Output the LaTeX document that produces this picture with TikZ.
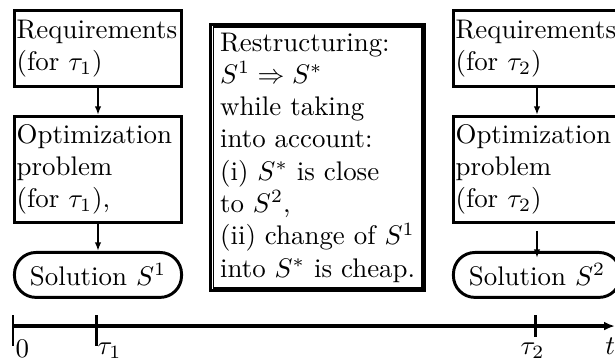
\documentclass[tikz,border=0pt]{standalone}
\usepackage{amsmath,amssymb}
\usetikzlibrary{arrows.meta}

\tikzset{
  box/.style={draw, line width=1.1pt, anchor=north west, align=left,
    text width=60.5pt, inner xsep=0.8pt, inner ysep=0pt},
  soln/.style={draw, line width=1.1pt, anchor=north west, rounded corners=8pt,
    minimum width=62.1pt, minimum height=16.7pt, inner sep=0pt},
  arr/.style={-{Latex[length=3.2pt,width=2.4pt]}, line width=0.7pt},
  axlabel/.style={anchor=base west, inner sep=0pt},
}

\begin{document}
\begin{tikzpicture}[x=1pt,y=1pt]
  \useasboundingbox (0,0) rectangle (228.6,133.8);
  % first instant
  \node[box, minimum height=28.25pt] (req1) at (4.83,130.5) {Requirements\\(for $\tau_1$)};
  \node[box, minimum height=39.4pt] (opt1) at (4.83,91.07) {Optimization\\problem\\(for $\tau_1$),};
  \node[soln] (sol1) at (4.83,40.5) {Solution $S^1$};
  \draw[arr] (req1) -- (opt1);
  \draw[arr] (opt1) -- (sol1);
  % restructuring in the middle
  \node[draw, line width=1.2pt, anchor=north west, align=left, minimum width=79.5pt,
    minimum height=98.9pt, inner sep=0pt] (restr) at (77.7,125.3)
    {Restructuring:\\$S^1 \Rightarrow S^*$\\while taking\\into account:\\(i) $S^*$ is close\\to $S^2$,\\(ii) change of $S^1$\\into $S^*$ is cheap.};
  \draw[line width=0.5pt] ([shift={(1.6pt,1.6pt)}]restr.south west) rectangle ([shift={(-1.6pt,-1.6pt)}]restr.north east);
  % second instant
  \node[box, minimum height=28.25pt] (req2) at (168,130.5) {Requirements\\(for $\tau_2$)};
  \node[box, minimum height=39.4pt] (opt2) at (168,91.07) {Optimization\\problem\\(for $\tau_2$)};
  \node[soln] (sol2) at (168,40.5) {Solution $S^2$};
  \draw[arr] (req2) -- (opt2);
  \draw[arr] ([yshift=-2.6pt]opt2.south) -- ([yshift=-2.6pt]sol2.north);
  % time axis
  \coordinate (o) at (4.83,12.6);
  \coordinate (tend) at (228.6,12.6);
  \draw[line width=1.2pt, -{Latex[length=4pt,width=3.2pt]}] (o) -- (tend);
  \foreach \x/\yb in {4.83/5.2,35.9/5.2,199.05/8.6}
    \draw[line width=1pt] (\x,\yb) -- (\x,16.7);
  \node[axlabel] (lab0) at (5.6,0.8) {$0$};
  \node[axlabel] (labt1) at (36.05,2.0) {$\tau_1$};
  \node[axlabel] (labt2) at (193.3,2.0) {$\tau_2$};
  \node[axlabel] (labt) at (224.8,2.0) {$t$};
\end{tikzpicture}
\end{document}
